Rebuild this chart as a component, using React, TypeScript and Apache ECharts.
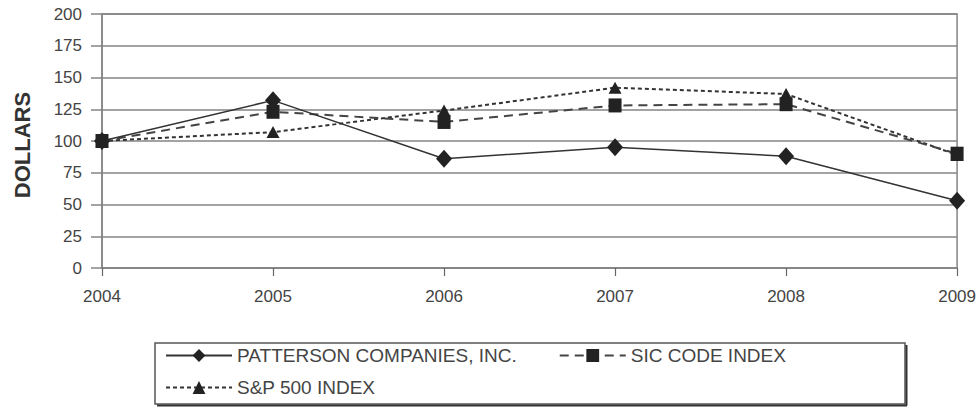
import React, { useEffect, useRef } from "react";
import * as echarts from "echarts";

const years = ["2004", "2005", "2006", "2007", "2008", "2009"];
const patterson = [100, 132, 86, 95, 88, 53];
const sicIndex = [100, 123, 115, 128, 129, 90];
const sp500 = [100, 107, 124, 142, 137, 89];
const seriesNames = ["PATTERSON COMPANIES, INC.", "SIC CODE INDEX", "S&P 500 INDEX"];
const yAxisTitle = "DOLLARS";

const FONT = "'Liberation Sans', Arial, sans-serif";

export default function App() {
  const ref = useRef<HTMLDivElement>(null);
  useEffect(() => {
    if (!ref.current) return;
    const chart = echarts.init(ref.current, undefined, { renderer: "svg" });
    const gridColor = "#858585";
    chart.setOption({
      animation: false,
      backgroundColor: "#ffffff",
      textStyle: { fontFamily: FONT },
      grid: {
        left: 102,
        right: 21,
        top: 14,
        bottom: 139,
        show: true,
        borderColor: gridColor,
        borderWidth: 1.5,
        backgroundColor: "transparent",
      },
      xAxis: {
        type: "category",
        data: years,
        boundaryGap: false,
        axisLine: { show: true, lineStyle: { color: gridColor, width: 1.5 } },
        axisTick: { show: true, length: 8, lineStyle: { color: "#666", width: 1.2 } },
        axisLabel: { color: "#444", fontSize: 17, margin: 20, fontFamily: FONT },
        splitLine: { show: false },
      },
      yAxis: {
        type: "value",
        min: 0,
        max: 200,
        interval: 25,
        axisLine: { show: true, lineStyle: { color: gridColor, width: 1.5 } },
        axisTick: { show: true, length: 11, lineStyle: { color: gridColor, width: 1.5 } },
        axisLabel: { color: "#444", fontSize: 17, margin: 20, fontFamily: FONT },
        splitLine: { show: true, lineStyle: { color: gridColor, width: 1.5 } },
      },
      legend: [
        {
          data: [seriesNames[0], seriesNames[1]],
          left: 165,
          top: 346,
          padding: 0,
          itemGap: 42,
          itemWidth: 66,
          itemHeight: 16,
          textStyle: { color: "#444", fontSize: 19, fontFamily: FONT },
        },
        {
          data: [seriesNames[2]],
          left: 165,
          top: 378,
          padding: 0,
          itemWidth: 66,
          itemHeight: 16,
          textStyle: { color: "#444", fontSize: 19, fontFamily: FONT },
        },
      ],
      graphic: [
        {
          type: "rect",
          shape: { x: 155, y: 343, width: 750, height: 61 },
          style: { fill: "none", stroke: "#555", lineWidth: 1.5 },
          silent: true,
        },
        {
          type: "line",
          shape: { x1: 906.5, y1: 345, x2: 906.5, y2: 405.5 },
          style: { stroke: "#333", lineWidth: 2 },
          silent: true,
        },
        {
          type: "line",
          shape: { x1: 157, y1: 405.5, x2: 907, y2: 405.5 },
          style: { stroke: "#333", lineWidth: 2 },
          silent: true,
        },
        {
          type: "text",
          x: 22,
          y: 145,
          rotation: Math.PI / 2,
          style: {
            text: yAxisTitle,
            fill: "#333",
            font: `bold 22px ${FONT}`,
            align: "center",
            verticalAlign: "middle",
          },
        },
      ],
      series: [
        {
          name: seriesNames[2],
          type: "line",
          data: sp500,
          symbol: "triangle",
          symbolSize: [13, 12],
          itemStyle: { color: "#222" },
          lineStyle: { color: "#333", width: 2, type: [4, 3] },
          z: 2,
        },
        {
          name: seriesNames[1],
          type: "line",
          data: sicIndex,
          symbol: "rect",
          symbolSize: [13, 14],
          itemStyle: { color: "#222" },
          lineStyle: { color: "#444", width: 2, type: [9, 6] },
          z: 3,
        },
        {
          name: seriesNames[0],
          type: "line",
          data: patterson,
          symbol: "diamond",
          symbolSize: [16, 18],
          itemStyle: { color: "#222" },
          lineStyle: { color: "#333", width: 1.5, type: "solid" },
          z: 4,
        },
      ],
    });
    return () => chart.dispose();
  }, []);
  return (
    <div
      ref={ref}
      style={{ position: "absolute", left: 0, top: 0, width: 979, height: 407 }}
    />
  );
}
